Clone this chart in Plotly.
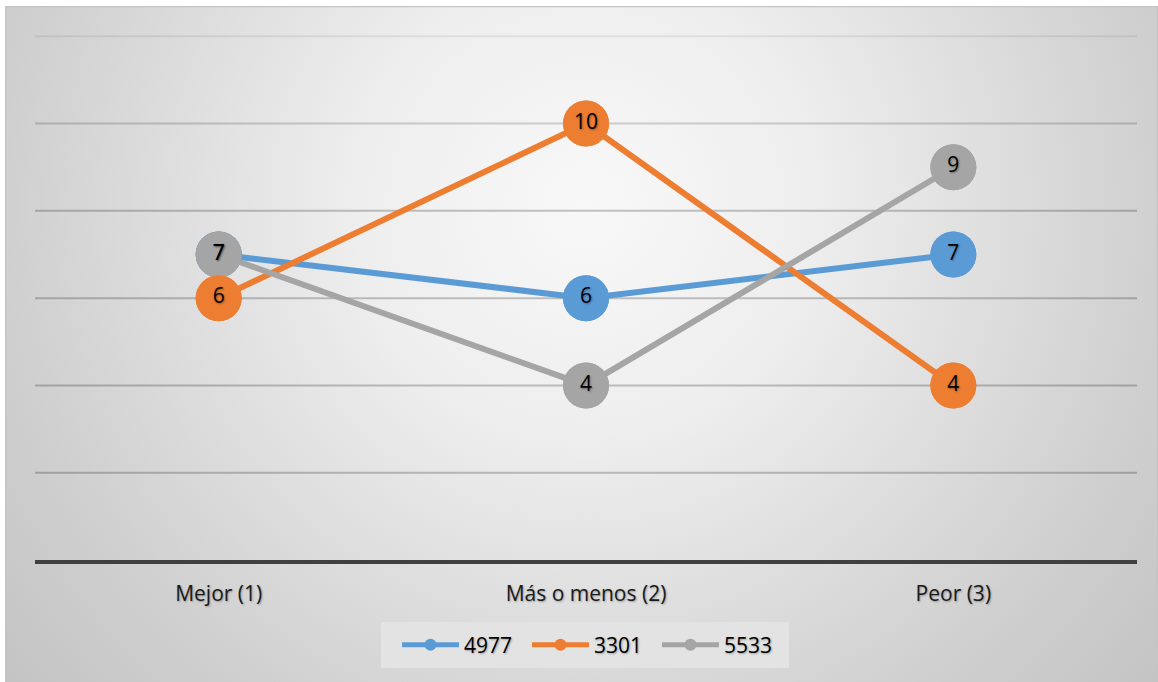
import base64
import plotly.graph_objects as go

categories = ["Mejor (1)", "Más o menos (2)", "Peor (3)"]
series_names = ["4977", "3301", "5533"]
values_4977 = [7, 6, 7]
values_3301 = [6, 10, 4]
values_5533 = [7, 4, 9]
y_ticks = [2, 4, 6, 8, 10, 12]

colors = {"4977": "#5B9BD5", "3301": "#ED7D31", "5533": "#A5A5A5"}
data = {"4977": values_4977, "3301": values_3301, "5533": values_5533}

W, H = 1158, 682
ML, MR, MT, MB = 35, 21, 35, 122
PW, PH = W - ML - MR, H - MT - MB
YMAX = 12.03

def py(pix):
    """pixel row -> paper y"""
    return (H - MB - pix) / PH

def px(pix):
    return (pix - ML) / PW

# background frame (chart area) with radial gradient
fx0, fy0, fx1, fy1 = 5, 6, 1158, 682
fw, fh = fx1 - fx0, fy1 - fy0
svg = f'''<svg xmlns="http://www.w3.org/2000/svg" width="{fw}" height="{fh}" viewBox="0 0 {fw} {fh}" preserveAspectRatio="none">
<defs><radialGradient id="g" gradientUnits="userSpaceOnUse" cx="580" cy="200" r="760">
<stop offset="0" stop-color="#f8f8f8"/>
<stop offset="0.3" stop-color="#eeeeee"/>
<stop offset="0.6" stop-color="#dadada"/>
<stop offset="0.77" stop-color="#cfcfcf"/>
<stop offset="1" stop-color="#c3c3c3"/>
</radialGradient></defs>
<rect x="0" y="0" width="{fw}" height="{fh}" fill="url(#g)"/>
<rect x="0.5" y="0.5" width="{fw-1}" height="{fh+5}" fill="none" stroke="#c4c4c4" stroke-width="1.5"/>
</svg>'''
src = "data:image/svg+xml;base64," + base64.b64encode(svg.encode()).decode()

fig = go.Figure()

# lines (legend entries), order: blue, orange, gray
for name in series_names:
    fig.add_trace(go.Scatter(
        x=categories, y=data[name], name=name, mode="lines+markers",
        line=dict(color=colors[name], width=6),
        marker=dict(color=colors[name], size=46),
        legendrank={"4977": 1, "3301": 2, "5533": 3}[name],
        cliponaxis=False,
    ))

# marker overlay, orange on top
for name in ["4977", "5533", "3301"]:
    fig.add_trace(go.Scatter(
        x=categories, y=data[name], mode="markers", showlegend=False,
        marker=dict(color=colors[name], size=46), hoverinfo="skip",
        cliponaxis=False,
    ))

# labels on top
for name in series_names:
    fig.add_trace(go.Scatter(
        x=categories, y=data[name], mode="text", showlegend=False,
        text=[str(v) for v in data[name]], textposition="middle center",
        textfont=dict(family="Open Sans", size=21, color="#000000",
                      shadow="1px 1px 2px rgba(0,0,0,0.35)"),
        hoverinfo="skip", cliponaxis=False,
    ))

# gridlines (lighter towards the top, like the reference)
grid_shapes = []
for t in y_ticks:
    alpha = 0.07 if t == 12 else (0.17 if t == 10 else 0.22)
    grid_shapes.append(dict(
        type="line", xref="paper", yref="y", x0=0, x1=1, y0=t, y1=t,
        line=dict(color=f"rgba(0,0,0,{alpha})", width=2), layer="below",
    ))

fig.update_layout(
    width=W, height=H,
    margin=dict(l=ML, r=MR, t=MT, b=MB),
    paper_bgcolor="white",
    plot_bgcolor="rgba(0,0,0,0)",
    font=dict(family="Open Sans", color="#000000"),
    showlegend=True,
    legend=dict(
        orientation="h", x=px(592), xanchor="center",
        y=py(645), yanchor="middle",
        bgcolor="rgba(0,0,0,0)", borderwidth=0,
        font=dict(family="Open Sans", size=21, color="#000000",
                  shadow="1px 1px 2px rgba(0,0,0,0.3)"),
        itemsizing="constant", itemwidth=57,
        entrywidth=58, entrywidthmode="pixels",
    ),
    shapes=[dict(
        type="rect", xref="paper", yref="paper", layer="below",
        x0=px(381), x1=px(789), y0=py(668), y1=py(622),
        fillcolor="#e3e3e3", line=dict(width=0),
    )] + grid_shapes,
    images=[dict(
        source=src, xref="paper", yref="paper",
        x=px(fx0), y=py(fy0),
        sizex=fw / PW, sizey=fh / PH,
        xanchor="left", yanchor="top", sizing="stretch", layer="below",
    )],
    xaxis=dict(
        type="category", range=[-0.5, 2.5], showgrid=False, zeroline=False,
        showline=True, linecolor="#404040", linewidth=4,
        ticks="", ticklabelstandoff=12,
        tickfont=dict(family="Open Sans", size=21, color="#1a1a1a",
                      shadow="1px 1px 2px rgba(0,0,0,0.3)"),
    ),
    yaxis=dict(
        range=[0, YMAX], showticklabels=False,
        showgrid=False, zeroline=False, showline=False, ticks="",
    ),
)

fig.write_html("out.html")
